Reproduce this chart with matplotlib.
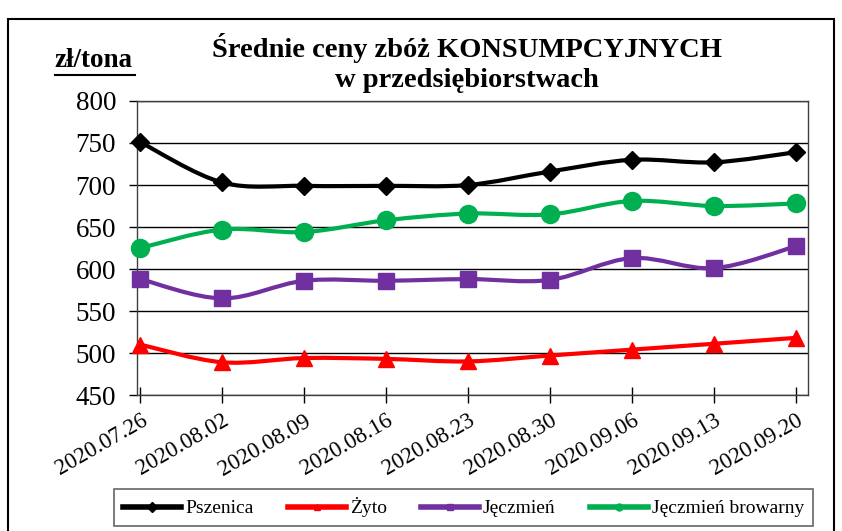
import matplotlib.pyplot as plt
import numpy as np
from matplotlib.path import Path
from matplotlib.patches import PathPatch, Rectangle
from matplotlib.lines import Line2D

plt.rcParams['font.family'] = ['Liberation Serif', 'DejaVu Serif']

dates = ["2020.07.26", "2020.08.02", "2020.08.09", "2020.08.16", "2020.08.23",
         "2020.08.30", "2020.09.06", "2020.09.13", "2020.09.20"]
pszenica = [751, 703, 699, 699, 700, 716, 730, 727, 739]
zyto = [510, 489, 494, 493, 490, 497, 504, 511, 518]
jeczmien = [588, 565, 586, 586, 588, 587, 613, 601, 627]
browarny = [625, 647, 644, 658, 666, 665, 681, 675, 678]

series = [
    ("Pszenica", pszenica, "black", "D", 9),
    ("Żyto", zyto, "#FF0000", "^", 11),
    ("Jęczmień", jeczmien, "#7030A0", "s", 12),
    ("Jęczmień browarny", browarny, "#00B050", "o", 13),
]


def smooth_path(x, y):
    # bezier segments like excel's smoothed line
    x = np.asarray(x, float)
    y = np.asarray(y, float)
    n = len(x)
    verts = [(x[0], y[0])]
    codes = [Path.MOVETO]
    for i in range(n - 1):
        x0, y0 = (x[i - 1], y[i - 1]) if i > 0 else (x[i], y[i])
        x3, y3 = (x[i + 2], y[i + 2]) if i + 2 < n else (x[i + 1], y[i + 1])
        c1 = (x[i] + (x[i + 1] - x0) / 6, y[i] + (y[i + 1] - y0) / 6)
        c2 = (x[i + 1] - (x3 - x[i]) / 6, y[i + 1] - (y3 - y[i]) / 6)
        verts += [c1, c2, (x[i + 1], y[i + 1])]
        codes += [Path.CURVE4] * 3
    return Path(verts, codes)


fig = plt.figure(figsize=(8.42, 5.31), dpi=100)
ax = fig.add_axes([0.1627, 0.2561, 0.7969, 0.5537])

xs = np.arange(len(dates))
handles = []
for name, vals, color, marker, ms in series:
    ax.add_patch(PathPatch(smooth_path(xs, vals), fill=False, edgecolor=color,
                           lw=3, zorder=3, capstyle='round', joinstyle='round'))
    ax.plot(xs, vals, linestyle='none', marker=marker, color=color,
            markersize=ms, zorder=4, clip_on=False)
    handles.append(Line2D([], [], color=color, lw=4, marker=marker, markersize=5))

ax.set_xlim(-0.04, 8.15)
ax.set_ylim(450, 800)
ax.set_yticks(np.arange(450, 801, 50))
ax.set_xticks(xs)
ax.set_xticklabels(dates, rotation=30, ha='right', rotation_mode='anchor', fontsize=16.5)
ax.tick_params(axis='y', labelsize=19.5, length=6, width=1, direction='out', pad=9)
ax.tick_params(axis='x', length=12, width=1, direction='inout', pad=5)
ax.grid(axis='y', color='black', lw=1)
ax.set_axisbelow(True)
for s in ax.spines.values():
    s.set_color('#404040')
    s.set_linewidth(1)

fig.text(0.555, 0.910, "Średnie ceny zbóż KONSUMPCYJNYCH", ha='center', va='center',
         fontsize=20.5, fontweight='bold')
fig.text(0.555, 0.849, "w przedsiębiorstwach", ha='center', va='center',
         fontsize=20.5, fontweight='bold')
fig.text(0.1115, 0.886, "zł/tona", ha='center', va='center', fontsize=19.5,
         fontweight='bold')
fig.add_artist(Line2D([0.065, 0.160], [0.858, 0.858], color='black', lw=1.5))

leg = fig.legend(handles=[h for h in handles], labels=[s[0] for s in series],
                 loc='center', bbox_to_anchor=(0.5505, 0.0443), ncol=4,
                 fontsize=14, frameon=True, fancybox=False, handlelength=3.0,
                 columnspacing=1.75, handletextpad=0.2, borderpad=0.45)
leg.get_frame().set_edgecolor('#404040')
leg.get_frame().set_linewidth(1.2)

fig.add_artist(Rectangle((8 / 842, -0.02), 826 / 842, 1.02 - 19 / 531, fill=False,
                         edgecolor='black', lw=1.5, transform=fig.transFigure))

fig.savefig("out.png", dpi=100)
